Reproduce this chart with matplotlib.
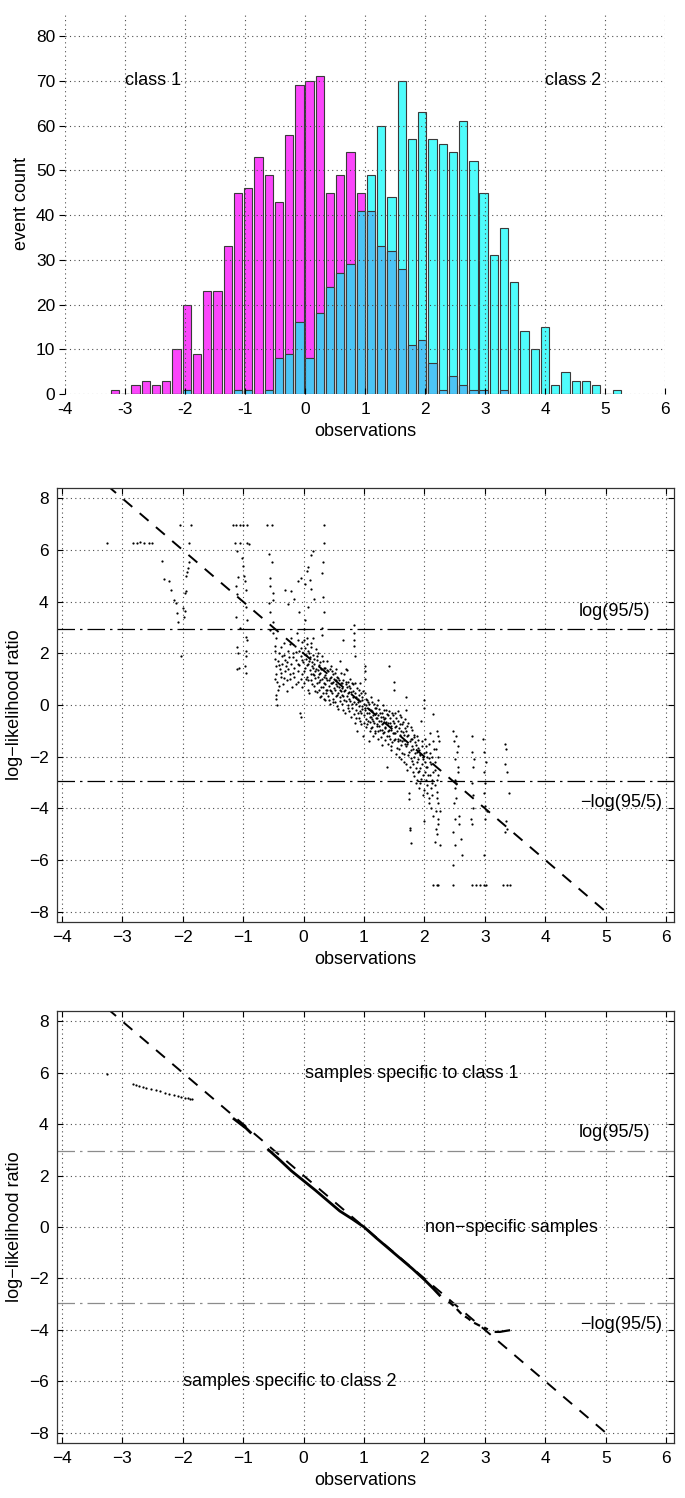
import matplotlib
matplotlib.use("Agg")
import matplotlib.pyplot as plt
import numpy as np

plt.rcParams.update({"font.family": ["Liberation Sans", "DejaVu Sans"],
                     "font.size": 12.5, "axes.unicode_minus": True})

# ---------------- histogram data (50 bins, 1000 samples per class) ----------
bin_centers = np.linspace(-3.165, 5.195, 50)
class1_counts = [1, 0, 2, 3, 2, 3, 10, 20, 9, 23, 23, 33, 45, 46, 53, 49, 43, 58, 69, 70,
                 71, 45, 49, 54, 45, 41, 33, 32, 28, 11, 12, 7, 1, 4, 2, 1, 1, 0, 1, 0,
                 0, 0, 0, 0, 0, 0, 0, 0, 0, 0]
class2_counts = [0, 0, 0, 0, 0, 0, 0, 1, 0, 0, 0, 0, 1, 1, 0, 1, 8, 9, 16, 8,
                 18, 24, 27, 29, 41, 49, 60, 44, 70, 57, 63, 57, 56, 54, 61, 52, 45, 31, 37, 25,
                 14, 10, 15, 2, 5, 3, 3, 2, 0, 1]

# ---------------- per-sample log-likelihood ratio estimates ----------------
llr_x = [-3.26, -2.83, -2.76, -2.70, -2.64, -2.55, -2.50,
         -2.35, -2.31, -2.22, -2.19, -2.14, -2.11, -2.10, -2.07, -2.03, -2.04,
         -1.99, -1.97, -1.96, -1.95, -1.93, -1.92, -1.90, -1.89, -1.87, -1.95, -1.98,
         -1.17, -1.12, -1.06, -1.00, -0.93,
         -1.13, -1.10, -1.05, -1.02, -1.00, -0.98, -0.97, -1.12, -1.10, -1.08, -0.95, -0.93, -0.91,
         -0.95, -0.94, -0.93, -0.95, -1.10, -1.08, -1.07, -1.10, -0.96, -0.97, -1.12, -1.05, -0.96, -0.95,
         -0.60, -0.53, -0.58, -0.52, -0.56, -0.55, -0.51, -0.57, -0.55, -0.51, -0.56, -0.50,
         -0.10, -0.05, 0.02, 0.05, 0.08, 0.10, 0.13, 0.15, 0.12, 0.33, 0.33, 0.32, 0.30, 0.32,
         0.33, 0.31, 0.30, -0.08, 0.02, 0.08, -0.20, -0.30, -0.25, -0.15, 0.18,
         -0.50, -0.48, -0.47, -0.46, -0.45, -0.44, -0.43, -0.45, -0.44, -0.42, -0.40, -0.39, -0.38,
         -0.36, -0.35, -0.34, -0.32, -0.31, -0.30, -0.29, -0.28, -0.26, -0.25, -0.24, -0.22, -0.21,
         -0.20, -0.19, -0.18, -0.16, -0.15, -0.14, -0.12, -0.11, -0.10, -0.09, -0.08, -0.07, -0.06,
         -0.05, -0.04, -0.03, -0.02, -0.01,
         0.00, 0.01, 0.02, 0.03, 0.04, 0.05, 0.06, 0.07, 0.08, 0.09, 0.10, 0.11, 0.12, 0.13, 0.14,
         0.15, 0.16, 0.17, 0.18, 0.19, 0.20, 0.21, 0.22, 0.23, 0.24, 0.25, 0.26, 0.27, 0.28, 0.29,
         0.30, 0.31, 0.32, 0.33, 0.34, 0.35, 0.36, 0.37, 0.38, 0.39, 0.40, 0.41, 0.42, 0.43, 0.44,
         0.45, 0.46, 0.47, 0.48, 0.49,
         0.50, 0.51, 0.52, 0.53, 0.54, 0.55, 0.56, 0.57, 0.58, 0.59, 0.60, 0.61, 0.62, 0.63, 0.64,
         0.65, 0.66, 0.67, 0.68, 0.69, 0.70, 0.71, 0.72, 0.73, 0.74, 0.75, 0.76, 0.77, 0.78, 0.79,
         0.80, 0.82, 0.83, 0.83, 0.84, 0.84, 0.85, 0.85, 0.86, 0.87, 0.88, 0.89, 0.90, 0.91, 0.92,
         0.93, 0.94, 0.95, 0.96, 0.97, 0.98, 0.99,
         1.00, 1.01, 1.01, 1.02, 1.02, 1.03, 1.04, 1.05, 1.06, 1.07, 1.08, 1.09, 1.10, 1.11, 1.12,
         1.13, 1.14, 1.15, 1.16, 1.17, 1.18, 1.19, 1.20, 1.21, 1.22, 1.23, 1.24, 1.25, 1.26, 1.27,
         1.28, 1.29, 1.30, 1.31, 1.32, 1.33, 1.34, 1.35, 1.36, 1.37, 1.38, 1.39, 1.40, 1.41, 1.42,
         1.43, 1.44, 1.45, 1.46, 1.47, 1.48, 1.49,
         1.50, 1.50, 1.51, 1.52, 1.53, 1.54, 1.55, 1.56, 1.57, 1.58, 1.59, 1.60, 1.61, 1.62, 1.63,
         1.64, 1.65, 1.66, 1.67, 1.68, 1.69, 1.70, 1.70, 1.71, 1.72, 1.73, 1.74, 1.75, 1.75, 1.76,
         1.76, 1.77, 1.77, 1.78, 1.79, 1.80, 1.81, 1.82, 1.83, 1.84, 1.85, 1.86, 1.87, 1.88, 1.89,
         1.90, 1.91, 1.92, 1.93, 1.94, 1.95, 1.96, 1.97, 1.98, 1.99,
         2.00, 2.00, 2.01, 2.02, 2.03, 2.04, 2.05, 2.06, 2.07, 2.08, 2.09, 2.10, 2.11, 2.12, 2.13,
         2.14, 2.15, 2.16, 2.17, 2.18, 2.19, 2.20, 2.20, 2.21, 2.22, 2.22, 2.23, 2.23, 2.24, 2.25, 2.25,
         2.48, 2.49, 2.50, 2.50, 2.51, 2.49, 2.50, 2.48, 2.51, 2.47, 2.53, 2.54, 2.55, 2.53, 2.52,
         2.55, 2.56, 2.57, 2.58, 2.60, 2.62,
         2.78, 2.79, 2.80, 2.79, 2.81, 2.80, 2.78, 2.82, 2.77,
         2.97, 2.98, 2.99, 3.00, 2.99, 3.01, 3.00, 2.98, 3.02, 3.03,
         3.34, 3.35, 3.34, 3.36, 3.35, 3.36, 3.34, 3.40,
         2.15, 2.20, 2.22, 2.48, 2.78, 2.85, 2.92, 2.99, 3.02, 3.30, 3.36, 3.42]
llr_y = [6.28, 6.28, 6.28, 6.30, 6.28, 6.28, 6.28,
         5.57, 4.86, 4.80, 4.46, 4.08, 3.95, 3.55, 3.20, 1.90, 6.95,
         3.75, 3.62, 4.35, 4.98, 5.15, 5.30, 5.55, 6.28, 6.95, 4.40, 3.40,
         6.95, 6.95, 6.95, 6.95, 6.95,
         6.28, 5.95, 6.28, 5.70, 5.40, 5.00, 4.80, 4.60, 4.30, 4.95, 4.45, 6.28, 6.25,
         3.80, 3.30, 2.50, 2.65, 2.25, 2.00, 1.45, 1.38, 1.25, 1.50, 3.40, 3.00, 2.10, 1.90,
         6.95, 6.95, 5.85, 5.55, 4.90, 4.60, 4.35, 3.95, 3.60, 3.20, 2.90, 4.05,
         4.80, 4.90, 4.70, 5.20, 5.35, 4.85, 5.80, 5.95, 4.50, 6.95, 6.28, 5.55, 5.10, 4.20,
         3.60, 3.00, 2.70, 3.60, 3.30, 3.80, 4.40, 4.45, 3.90, 4.10, 4.10,
         2.80, 2.30, 1.80, 1.50, 1.20, 0.90, 0.60, 0.25, 0.00, 1.70, 2.00, 1.40, 1.10,
         1.90, 1.60, 0.80, 2.40, 1.30, 1.75, 1.50, 0.95, 2.10, 1.40, 1.85, 1.20, 2.60,
         1.60, 0.70, 2.00, 1.45, 1.10, 2.30, 1.75, 2.80, 1.30, 0.90, 2.10, 1.55, -0.30,
         -0.45, 1.90, 2.45, 1.20, 1.65,
         2.95, 0.85, 1.45, 2.20, 1.80, 1.10, 2.60, 1.60, 0.60, 2.00, 1.35, 1.85, 0.95, 2.40, 1.50,
         1.20, 1.95, 0.75, 1.60, 1.05, 2.15, 1.40, 0.50, 1.75, 1.10, 0.90, 1.55, 0.30, 1.25, 0.70,
         1.90, 1.00, 0.45, 1.45, 0.85, 0.20, 1.15, 0.60, 1.70, 0.95, 0.35, 1.30, 0.75, 0.05, 1.05,
         0.55, 1.50, 0.85, 0.25, 1.20,
         0.65, 1.00, 0.10, 1.40, 0.80, 0.40, 1.10, -0.15, 0.70, 0.95, 0.30, 1.70, 0.55, 0.05, 0.85,
         2.50, 0.35, 1.20, -0.30, 0.60, 0.90, 0.15, 1.35, 0.45, -0.10, 0.75, 0.25, 1.00, -0.45, 0.50,
         0.05, 0.80, 3.10, 2.80, 2.50, 2.30, 1.90, -0.70, 0.30, -0.20, 0.65, -1.00, 0.10, -0.50, 0.40,
         -0.25, 0.85, -0.75, 0.20, -0.05, -1.20, 0.55,
         -0.40, 1.50, 1.30, 1.00, -0.10, 0.25, -0.85, -0.30, 0.10, -0.60, -1.40, -0.15, -0.45, 0.30, -0.90,
         -0.25, -0.55, -1.20, 0.05, -0.70, -0.35, -1.00, -0.10, -0.50, -0.80, 0.20, -1.30, -0.60, -0.30, -0.95,
         -0.45, -1.55, -0.75, 0.00, -1.10, -0.55, -0.85, -1.35, -0.20, -0.65, -2.40, -1.00, -0.40, 1.50, -1.20,
         -0.70, -1.75, -0.95, -0.30, -1.45, -0.60, -1.10,
         0.90, 0.60, -0.85, -1.30, -0.50, -1.65, -1.00, -0.25, -1.40, -2.00, -0.75, -1.15, -1.55, -0.45, -1.85,
         -1.05, -0.65, -1.35, -2.20, -0.90, -1.60, 0.30, -0.20, -1.20, -2.50, -0.70, -1.80, -3.40, -3.65, -4.75,
         -4.85, -5.35, -1.30, -2.05, -0.95, -1.60, -2.30, -1.15, -2.75, -1.45, -1.85, -3.00, -1.20, -2.20, -1.65,
         -2.60, -3.20, -1.90, -2.45, -0.60, -2.85, -1.40, -3.50, -2.10, -4.50,
         0.20, -0.10, -1.30, -2.40, -1.80, -3.10, -2.00, -2.70, -1.50, -3.60, -2.20, -1.10, -4.00, -2.90, -3.00,
         -0.35, -4.30, -1.70, -5.30, -2.50, -4.80, -1.00, -3.35, -5.00, -2.00, -4.60, -3.80, -2.70, -1.40, -5.40, -4.10,
         -1.00, -1.40, -2.10, -2.90, -3.20, -3.80, -4.40, -4.90, -5.40, -6.20, -1.20, -1.80, -2.40, -3.00, -3.60,
         -1.60, -2.60, -4.30, -4.60, -5.20, -5.80,
         -1.20, -1.80, -2.40, -3.00, -3.50, -4.00, -4.60, -2.10, -4.40,
         -1.30, -1.80, -2.60, -3.00, -3.40, -3.90, -4.40, -5.80, -2.20, -4.10,
         -1.50, -1.70, -2.30, -2.60, -4.50, -4.80, -4.90, -3.40,
         -6.95, -6.95, -6.95, -6.95, -6.95, -6.95, -6.95, -6.95, -6.95, -6.95, -6.95, -6.95]

# more samples from the dense central band
band_x = [-0.48, -0.48, -0.46, -0.46, -0.41, -0.41, -0.37, -0.37, -0.33, -0.33, -0.27, -0.27,
          -0.23, -0.23, -0.17, -0.17, -0.13, -0.13, -0.09, -0.09, -0.05, -0.05, -0.02, -0.02,
          0.015, 0.015, 0.035, 0.035, 0.055, 0.055, 0.075, 0.075, 0.095, 0.095, 0.115, 0.115,
          0.135, 0.135, 0.155, 0.155, 0.175, 0.175, 0.195, 0.195, 0.215, 0.215, 0.235, 0.235,
          0.255, 0.255, 0.275, 0.275, 0.295, 0.295, 0.315, 0.315, 0.335, 0.335, 0.355, 0.355,
          0.375, 0.375, 0.395, 0.395, 0.415, 0.415, 0.435, 0.435, 0.455, 0.455, 0.475, 0.475,
          0.495, 0.495, 0.515, 0.515, 0.535, 0.535, 0.555, 0.555, 0.575, 0.575, 0.595, 0.595,
          0.615, 0.615, 0.635, 0.635, 0.655, 0.655, 0.675, 0.675, 0.695, 0.695, 0.715, 0.715,
          0.735, 0.735, 0.755, 0.755, 0.775, 0.775, 0.795, 0.795, 0.815, 0.815, 0.835, 0.835,
          0.855, 0.855, 0.875, 0.875, 0.895, 0.895, 0.915, 0.915, 0.935, 0.935, 0.955, 0.955,
          0.975, 0.975, 0.995, 0.995, 1.015, 1.015, 1.035, 1.035, 1.055, 1.055, 1.075, 1.075,
          1.095, 1.095, 1.115, 1.115, 1.135, 1.135, 1.155, 1.155, 1.175, 1.175, 1.195, 1.195,
          1.215, 1.215, 1.235, 1.235, 1.255, 1.255, 1.275, 1.275, 1.295, 1.295, 1.315, 1.315,
          1.335, 1.335, 1.355, 1.355, 1.375, 1.375, 1.395, 1.395, 1.415, 1.415, 1.435, 1.435,
          1.455, 1.455, 1.475, 1.475, 1.495, 1.495, 1.515, 1.515, 1.535, 1.535, 1.555, 1.555,
          1.575, 1.575, 1.595, 1.595, 1.615, 1.615, 1.635, 1.635, 1.655, 1.655, 1.675, 1.675,
          1.695, 1.695, 1.715, 1.715, 1.735, 1.735, 1.755, 1.755, 1.775, 1.775, 1.795, 1.795,
          1.815, 1.815, 1.835, 1.835, 1.855, 1.855, 1.875, 1.875, 1.895, 1.895, 1.915, 1.915,
          1.935, 1.935, 1.955, 1.955, 1.975, 1.975, 1.995, 1.995, 2.01, 2.01, 2.03, 2.03,
          2.05, 2.05, 2.07, 2.07, 2.09, 2.09, 2.11, 2.11, 2.13, 2.13, 2.15, 2.15,
          2.17, 2.17, 2.19, 2.19, 2.21, 2.21, 2.23, 2.23]
band_y = [1.00, 2.10, 2.60, 0.40, 1.55, 0.75, 2.25, 1.25, 1.05, 1.95, 1.65, 0.55,
          2.35, 1.00, 1.85, 1.25, 0.80, 2.05, 1.60, 2.50, 1.00, 2.20, 1.75, 0.70,
          2.50, 1.30, 1.00, 1.95, 1.55, 2.35, 0.95, 2.10, 1.70, 0.45, 1.20, 2.25,
          0.80, 1.65, 1.45, 2.60, 1.15, 1.80, 0.55, 1.30, 1.90, 0.85, 1.35, 2.00,
          0.60, 1.20, 1.65, 0.95, 1.40, 0.35, 1.70, 0.70, 1.10, 0.25, 1.45, 0.80,
          1.05, 0.45, 1.35, 0.60, 0.95, 0.20, 1.40, 0.60, 0.85, 1.10, 0.45, 1.30,
          0.90, 0.10, 0.60, 1.25, 0.35, 0.95, 0.75, -0.05, 1.05, 0.45, 0.60, 0.15,
          0.85, 1.25, 0.40, 0.65, 0.95, -0.20, 0.55, 0.20, 0.80, 1.40, 0.35, 0.70,
          0.00, 0.90, 0.50, -0.25, 0.15, 0.65, 0.85, -0.10, 0.30, 0.55, -0.35, 0.10,
          0.45, 0.85, -0.50, 0.05, 0.25, -0.30, 0.60, -0.05, 0.15, -0.60, 0.45, -0.30,
          -0.15, 0.30, -0.70, 0.05, -0.20, 0.45, -0.55, 0.00, 0.20, -0.75, -0.30, 0.05,
          -0.65, -1.00, -0.20, -0.45, 0.10, -0.85, -0.40, -0.60, -0.10, -1.10, -0.50, -0.30,
          -0.75, 0.00, -0.40, -1.00, -0.15, -0.80, -0.60, -1.25, -0.30, -0.95, -0.70, -0.45,
          -1.05, -0.20, -0.50, -0.90, -1.20, -0.35, -0.70, -1.50, -0.25, -0.95, -1.30, -0.50,
          -0.80, -1.60, -1.10, -0.40, -0.70, -1.35, -1.10, -0.30, -0.80, -1.90, -1.30, -0.60,
          -0.90, -1.70, -1.35, -0.40, -1.00, -2.10, -0.75, -1.40, -1.15, -1.90, -0.55, -1.50,
          -1.00, -2.30, -1.50, -0.80, -1.95, -1.15, -1.40, -2.40, -0.85, -1.75, -2.15, -1.30,
          -1.70, -2.60, -1.25, -2.00, -2.45, -1.55, -1.80, -2.90, -2.10, -1.35, -2.55, -1.75,
          -1.95, -3.00, -2.30, -1.60, -2.70, -2.00, -1.85, -3.30, -2.60, -2.20, -1.60, -2.90,
          -3.40, -2.40, -2.05, -3.80, -2.70, -1.85, -3.20, -2.30, -2.00, -3.50, -2.60, -1.40,
          -3.10, -2.20, -1.70, -4.10, -2.90, -3.60, -1.20, -4.40]

# ---------------- smoothed LLR estimate (bottom panel) ----------------------
iso_x = [-3.25]
iso_y = [5.95]
tail_x = [-2.83, -2.78, -2.72, -2.66, -2.60, -2.52, -2.45, -2.38, -2.30, -2.22, -2.15,
          -2.08, -2.02, -1.97, -1.92, -1.88, -1.84]
tail_y = [5.56, 5.52, 5.48, 5.45, 5.40, 5.36, 5.31, 5.27, 5.22, 5.17, 5.12,
          5.08, 5.05, 5.03, 5.00, 4.98, 4.96]
knee_x = [-1.15, -1.05, -0.95, -0.88]
knee_y = [4.20, 4.02, 3.84, 3.68]
est_x = [-0.58, -0.40, -0.20, 0.00, 0.20, 0.40, 0.60, 0.80, 1.00, 1.20, 1.40, 1.60, 1.80,
         2.00, 2.15, 2.25]
est_y = [3.00, 2.62, 2.18, 1.80, 1.42, 1.02, 0.62, 0.32, 0.00, -0.42, -0.82, -1.22, -1.62,
         -2.05, -2.40, -2.65]
est2_x = [2.40, 2.50, 2.62, 2.72, 2.80, 2.90, 2.98, 3.05]
est2_y = [-2.90, -3.10, -3.40, -3.55, -3.70, -3.82, -3.90, -3.98]
end_x = [3.18, 3.25, 3.32, 3.40]
end_y = [-4.08, -4.08, -4.05, -4.02]

# true log-likelihood ratio (dashed reference line)
ref_x = [-3.25, 5.07]
ref_y = [8.50, -8.14]
thresh = 2.944
x_ticks = [-4, -3, -2, -1, 0, 1, 2, 3, 4, 5, 6]
llr_ticks = [-8, -6, -4, -2, 0, 2, 4, 6, 8]

W, H = 685, 1498
fig = plt.figure(figsize=(W / 100, H / 100), dpi=100)

grid_kw = dict(color="0.3", linestyle=(0, (1, 3)), linewidth=0.8)
dashdot = (0, (14, 4, 2, 4))

# ---------------- panel 1: histograms ---------------------------------------
ax1 = fig.add_axes([65 / W, (H - 394) / H, 600 / W, 382 / H])
bw = 0.138
overlap = np.minimum(class1_counts, class2_counts)
ax1.bar(bin_centers, class1_counts, width=bw, color="#fb46fb", edgecolor="#3a3a3a", lw=0.8)
ax1.bar(bin_centers, class2_counts, width=bw, color="#4ffcfc", edgecolor="#3a3a3a", lw=0.8)
ax1.bar(bin_centers, overlap, width=bw, color="#4cc4f5", edgecolor="#3a3a3a", lw=0.8)
ax1.set_xlim(-4, 6)
ax1.set_ylim(0, 85.4)
ax1.set_xticks(x_ticks)
ax1.set_xticklabels([str(t) for t in x_ticks])
ax1.set_yticks(range(0, 81, 10))
for s in ax1.spines.values():
    s.set_visible(False)
ax1.set_axisbelow(False)
ax1.grid(True, **grid_kw)
ax1.tick_params(axis="x", direction="in", length=4, pad=6)
ax1.tick_params(axis="y", direction="out", length=4, pad=3)
ax1.set_xlabel("observations", fontsize=13)
ax1.set_ylabel("event count", fontsize=13)
ax1.text(-3, 70, "class 1", fontsize=13, va="center")
ax1.text(4, 70, "class 2", fontsize=13, va="center")


def llr_axes(rect, line_color):
    ax = fig.add_axes(rect)
    ax.set_xlim(-4.08, 6.13)
    ax.set_ylim(-8.4, 8.4)
    ax.set_xticks(x_ticks)
    ax.set_yticks(llr_ticks)
    ax.grid(True, **grid_kw)
    ax.tick_params(direction="in", length=4, top=True, right=True, pad=6)
    for s in ax.spines.values():
        s.set_color("0.2")
        s.set_linewidth(0.9)
    ax.plot(ref_x, ref_y, color="k", lw=1.4, linestyle=(0, (6, 5)))
    for yv in (thresh, -thresh):
        ax.axhline(yv, color=line_color, lw=0.9, linestyle=dashdot)
    ax.set_xlabel("observations", fontsize=13)
    ax.set_ylabel("log\u2212likelihood ratio", fontsize=13)
    return ax


# ---------------- panel 2: raw LLR estimates --------------------------------
ax2 = llr_axes([57 / W, (H - 922) / H, 617 / W, 434 / H], "k")
ax2.plot(llr_x, llr_y, ".", color="k", ms=3.2, mew=0)
ax2.plot(band_x, band_y, ".", color="k", ms=3.2, mew=0)
ax2.text(4.55, 3.6, "log(95/5)", fontsize=13, va="center")
ax2.text(4.57, -3.77, "\u2212log(95/5)", fontsize=13, va="center")

# ---------------- panel 3: smoothed LLR estimates ---------------------------
ax3 = llr_axes([57 / W, (H - 1443) / H, 617 / W, 432 / H], "0.55")
ax3.plot(iso_x, iso_y, ".", color="k", ms=3.2, mew=0)
ax3.plot(tail_x, tail_y, ".", color="k", ms=3.2, mew=0)
ax3.plot(knee_x, knee_y, color="k", lw=2.0)
ax3.plot(est_x, est_y, color="k", lw=2.0)
ax3.plot(est2_x, est2_y, color="k", lw=1.6, linestyle=(0, (3, 2)))
ax3.plot(end_x, end_y, color="k", lw=1.6)
ax3.text(0.02, 5.95, "samples specific to class 1", fontsize=13, va="center")
ax3.text(4.55, 3.69, "log(95/5)", fontsize=13, va="center")
ax3.text(2.01, 0.0, "non\u2212specific samples", fontsize=13, va="center")
ax3.text(4.57, -3.79, "\u2212log(95/5)", fontsize=13, va="center")
ax3.text(-2.0, -6.0, "samples specific to class 2", fontsize=13, va="center")

fig.savefig("out.png", dpi=100)
